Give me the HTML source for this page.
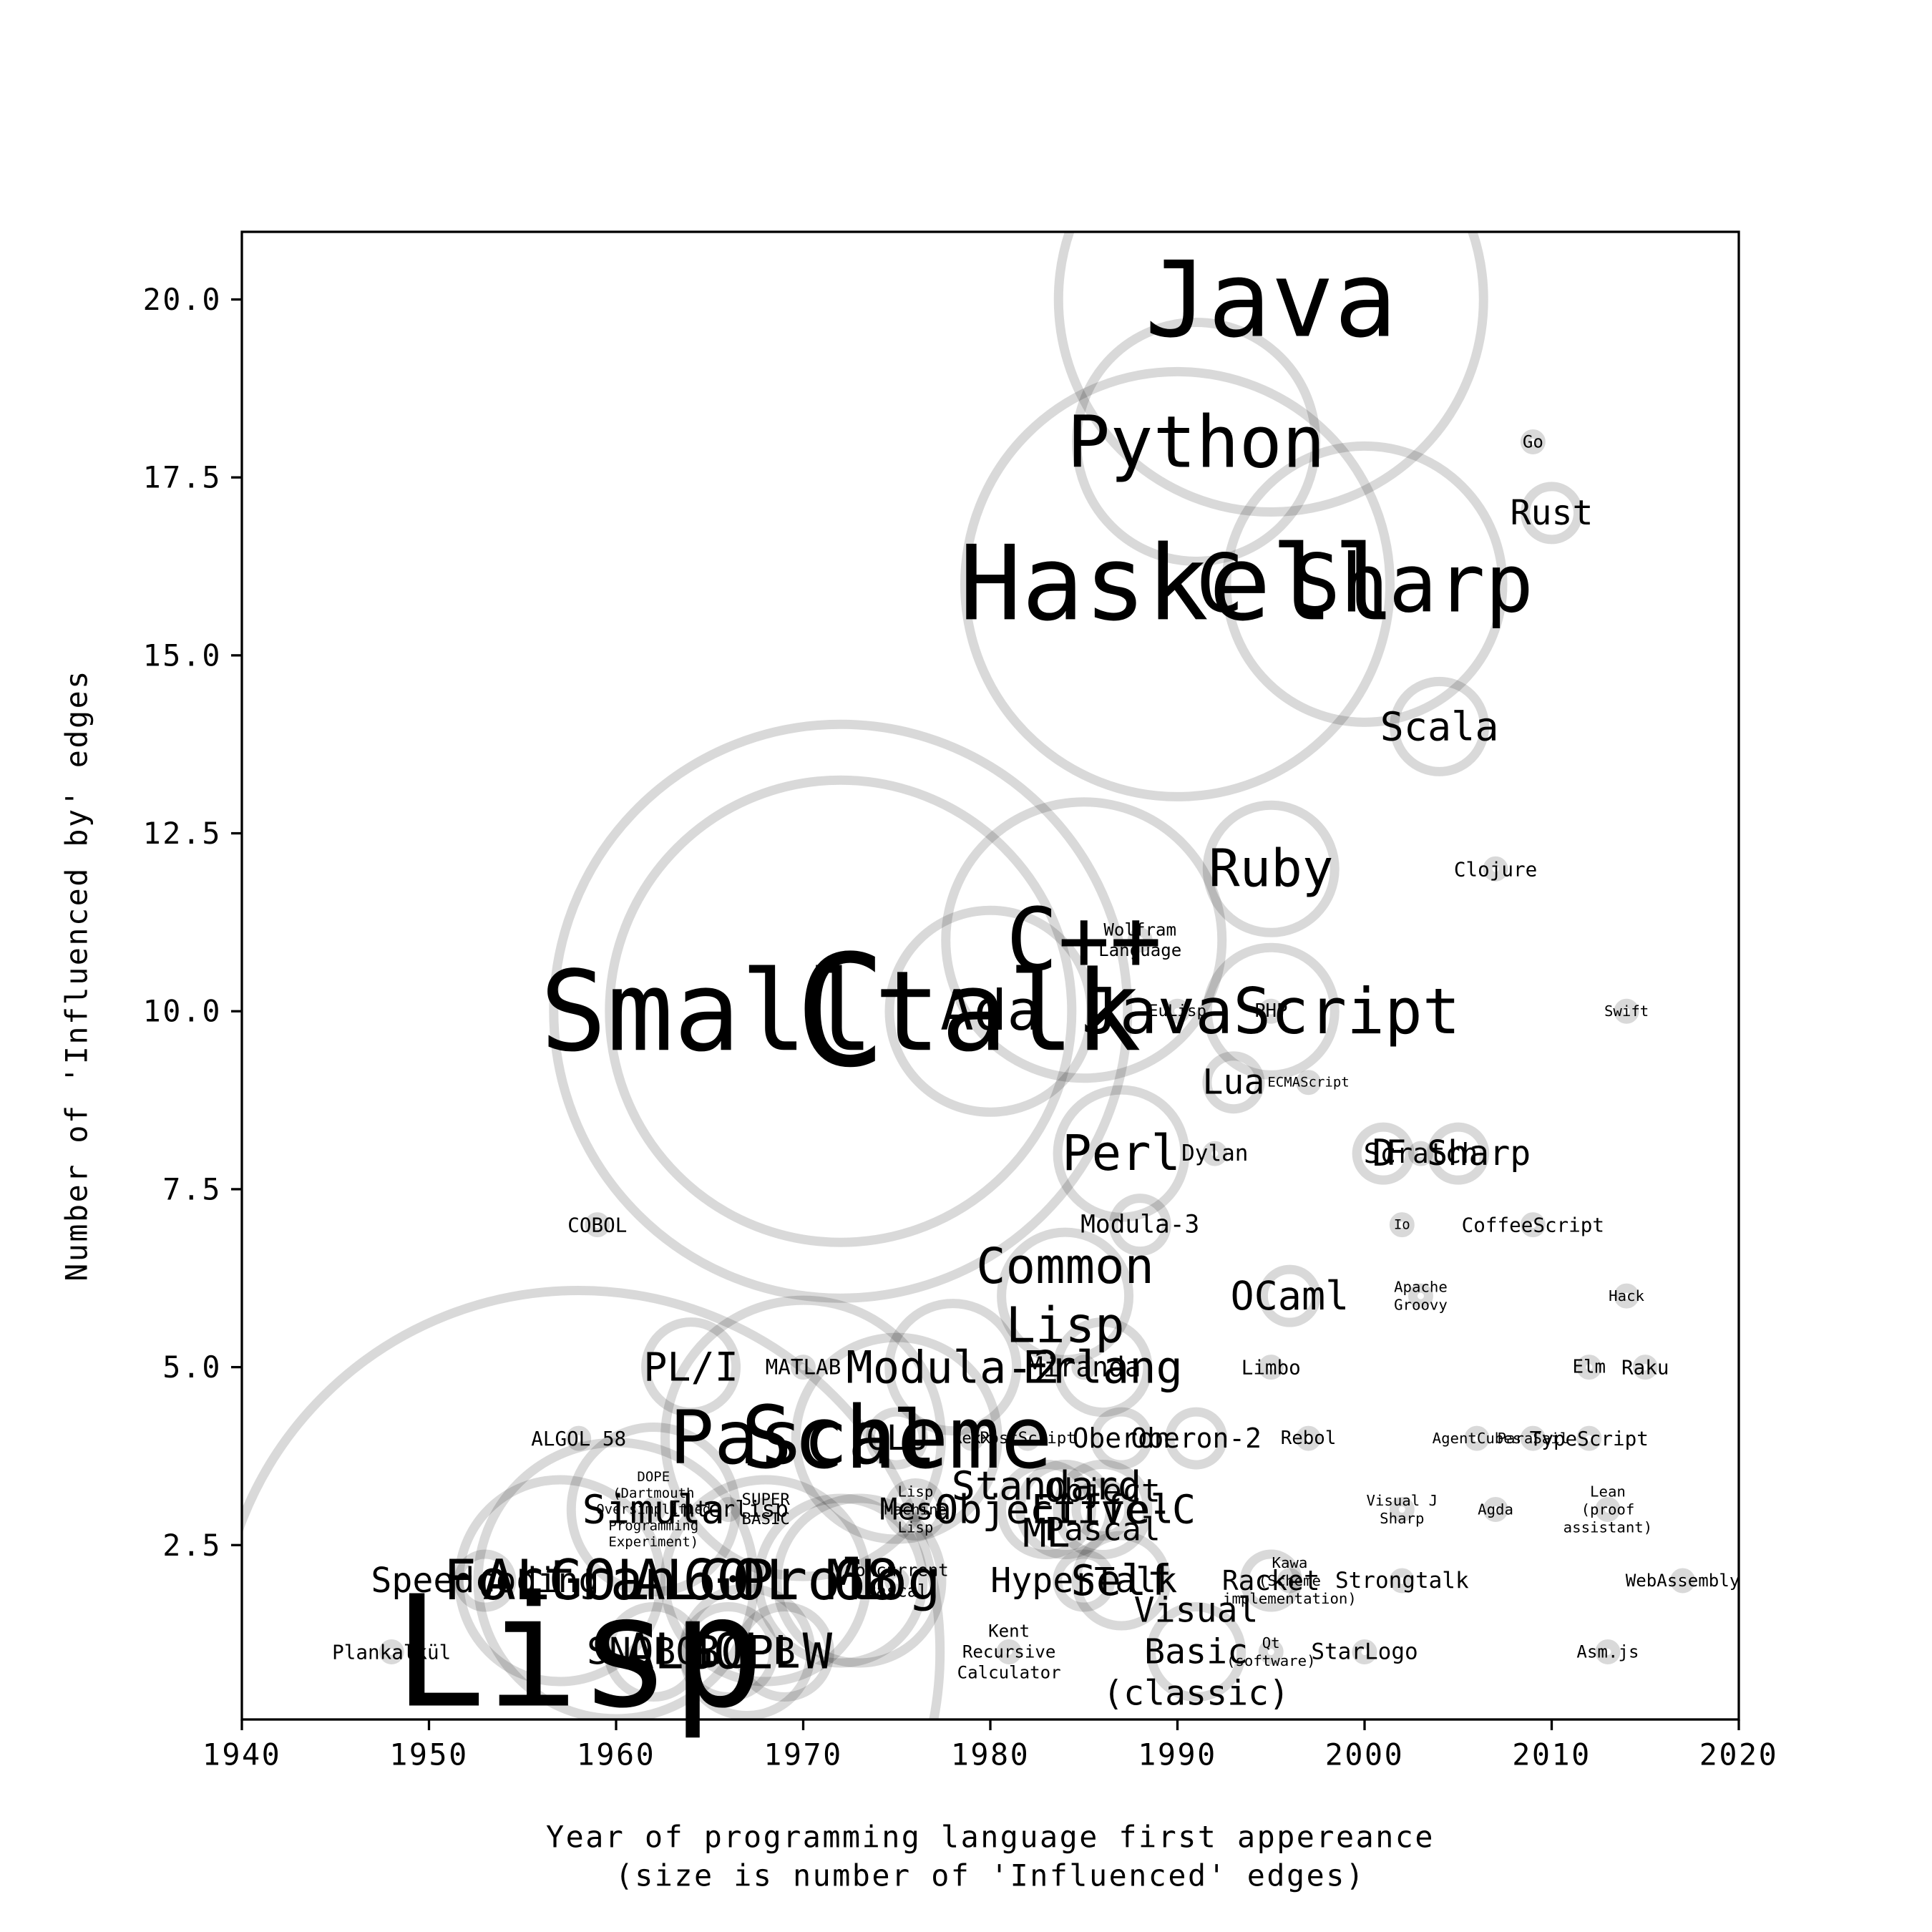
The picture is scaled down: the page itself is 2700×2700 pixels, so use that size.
<!DOCTYPE html>
<html><head><meta charset="utf-8"><style>
html,body{margin:0;padding:0;background:#fff}
svg{display:block}
text{font-family:"DejaVu Sans Mono","Liberation Mono",monospace}
.ax{letter-spacing:0.06em}
</style></head><body>
<svg id="chart" width="2700" height="2700" viewBox="0 0 2700 2700" xmlns="http://www.w3.org/2000/svg">
<defs><clipPath id="plotclip"><rect x="338" y="324" width="2092" height="2079"/></clipPath></defs>
<rect width="2700" height="2700" fill="#fff"/>
<g id="circles" clip-path="url(#plotclip)"></g>
<g id="labels"></g>
<rect x="338" y="324" width="2092" height="2079" fill="none" stroke="#000" stroke-width="3.3"/>
<g id="axes"></g>
<text class="ax" x="1384" y="2567" font-size="41.7" text-anchor="middle" dominant-baseline="central">Year of programming language first appereance</text>
<text class="ax" x="1384" y="2621" font-size="41.7" text-anchor="middle" dominant-baseline="central">(size is number of 'Influenced' edges)</text>
<text class="ax" x="107" y="1363" font-size="41.7" text-anchor="middle" dominant-baseline="central" transform="rotate(-90 107 1363)">Number of 'Influenced by' edges</text>
</svg>
<script>
const names=["Java","Python","Haskell","C Sharp","Go","Rust","Scala","Ruby","Clojure","C++","Wolfram\nLanguage","Smalltalk","C","Ada","JavaScript","EuLisp","PHP","Lua","ECMAScript","Swift","Perl","Dylan","D","Scratch","F Sharp","COBOL","Modula-3","Io","CoffeeScript","Common\nLisp","OCaml","Apache\nGroovy","Hack","PL/I","MATLAB","Modula-2","Miranda","Erlang","Limbo","Elm","Raku","Pascal","Scheme","ALGOL 58","CLU","Rexx","PostScript","Oberon","Oberon-2","Rebol","AgentCubes","ParaSail","TypeScript","Simula","Interlisp","Mesa","Objective-C","Standard\nML","Eiffel","Object\nPascal","Visual J\nSharp","Agda","Lean\n(proof\nassistant)","Fortran","ALGOL 60","ALGOL 68","ML","Prolog","Speedcoding","Self","HyperTalk","Racket","Kawa\n(Scheme\nimplementation)","Strongtalk","WebAssembly","Visual\nBasic\n(classic)","Lisp","ALGOL W","Plankalkül","StarLogo","Asm.js","Kent\nRecursive\nCalculator","Qt\n(software)","Concurrent\nPascal","DOPE\n(Dartmouth\nOversimplified\nProgramming\nExperiment)","SUPER\nBASIC","Lisp\nMachine\nLisp","BCPL","B","SNOBOL"];
const years=[1995,1991,1990,2000,2009,2010,2004,1995,2007,1985,1988,1972,1972,1980,1995,1990,1995,1993,1997,2014,1987,1992,2001,2003,2005,1959,1988,2002,2009,1984,1996,2003,2014,1964,1970,1978,1985,1986,1995,2012,2015,1970,1975,1958,1975,1979,1982,1987,1991,1997,2006,2009,2012,1962,1966,1976,1984,1983,1986,1986,2002,2007,2013,1957,1960,1968,1973,1972,1953,1987,1985,1995,1996,2002,2017,1991,1958,1966,1948,2000,2013,1981,1995,1975,1962,1968,1976,1967,1969,1962];
const influencedBy=[20,18,16,16,18,17,14,12,12,11,11,10,10,10,10,10,10,9,9,10,8,8,8,8,8,7,7,7,7,6,6,6,6,5,5,5,5,5,5,5,5,4,4,4,4,4,4,4,4,4,4,4,4,3,3,3,3,3,3,3,3,3,3,2,2,2,2,2,2,2,2,2,2,2,2,1,1,1,1,1,1,1,1,2,3,3,3,1,1,1];
const influenced=[12,7,12,8,1,2,3,4,1,8,1,16,13,6,4,1,1,2,1,1,4,1,2,1,2,1,2,1,1,4,2,1,1,3,1,4,1,3,1,1,1,8,6,1,2,1,1,2,2,1,1,1,1,5,1,2,3,3,3,2,1,1,1,6,8,6,5,5,2,3,2,2,1,1,1,3,20,3,1,1,1,1,1,1,1,1,1,4,3,3];
const labelSize=[85,58,84,65,14,28,32,42,16,70,14,90,125,45,51,13,15,28,11,12,40,18,30,22,28,16,20,11,16,40,32,12,12,32,17,36,22,36,16,15,16,60,70,16,28,13,13,22,22,15,12,12,16,32,18,24,32,32,32,26,12,12,12,45,45,45,45,45,28,34,28,22,12,18,14,28,125,40,16,18,14,14,12,14,11,13,12,36,30,30];
const xTicks=[1940,1950,1960,1970,1980,1990,2000,2010,2020];
const yTicks=[2.5,5.0,7.5,10.0,12.5,15.0,17.5,20.0];
const S=1.723;
const X=v=>338+(v-1940)*(2092/80);
const Y=v=>2403-(v-0.05)*(2079/20.9);
const NS="http://www.w3.org/2000/svg";
const cg=document.getElementById('circles'),lg=document.getElementById('labels'),ag=document.getElementById('axes');
for(let i=0;i<names.length;i++){
  const c=document.createElementNS(NS,'circle');
  
  
  c.setAttribute('cx',X(years[i]));c.setAttribute('cy',Y(influencedBy[i]));
  c.setAttribute('r',26*influenced[i]-15);
  c.setAttribute('fill','none');c.setAttribute('stroke','#000');c.setAttribute('stroke-opacity','0.15');c.setAttribute('stroke-width','13');
  cg.appendChild(c);
}
for(let i=0;i<names.length;i++){
  const lines=names[i].split('\n');const fs=labelSize[i]*S;
  const t=document.createElementNS(NS,'text');
  
  
  t.setAttribute('font-size',fs.toFixed(1));t.setAttribute('text-anchor','middle');t.setAttribute('dominant-baseline','central');
  const cx=X(years[i]),cy=Y(influencedBy[i]);const lh=fs*1.2;const y0=cy-(lines.length-1)*lh/2;
  lines.forEach((ln,k)=>{const ts=document.createElementNS(NS,'tspan');ts.setAttribute('x',cx);ts.setAttribute('y',y0+k*lh);ts.textContent=ln;t.appendChild(ts);});
  lg.appendChild(t);
}
xTicks.forEach(v=>{
  const l=document.createElementNS(NS,'line');
  
  
  l.setAttribute('x1',X(v));l.setAttribute('x2',X(v));l.setAttribute('y1',2403);l.setAttribute('y2',2418);l.setAttribute('stroke','#000');l.setAttribute('stroke-width','3.3');ag.appendChild(l);
  const t=document.createElementNS(NS,'text');
  
  
  t.setAttribute('class','ax');
  t.setAttribute('x',X(v));t.setAttribute('y',2452);t.setAttribute('font-size','41.7');t.setAttribute('text-anchor','middle');t.setAttribute('dominant-baseline','central');t.textContent=v;ag.appendChild(t);
});
yTicks.forEach(v=>{
  const l=document.createElementNS(NS,'line');
  
  
  l.setAttribute('x1',323);l.setAttribute('x2',338);l.setAttribute('y1',Y(v));l.setAttribute('y2',Y(v));l.setAttribute('stroke','#000');l.setAttribute('stroke-width','3.3');ag.appendChild(l);
  const t=document.createElementNS(NS,'text');
  
  
  t.setAttribute('class','ax');
  t.setAttribute('x',310);t.setAttribute('y',Y(v));t.setAttribute('font-size','41.7');t.setAttribute('text-anchor','end');t.setAttribute('dominant-baseline','central');t.textContent=v.toFixed(1);ag.appendChild(t);
});
</script>
</body></html>
